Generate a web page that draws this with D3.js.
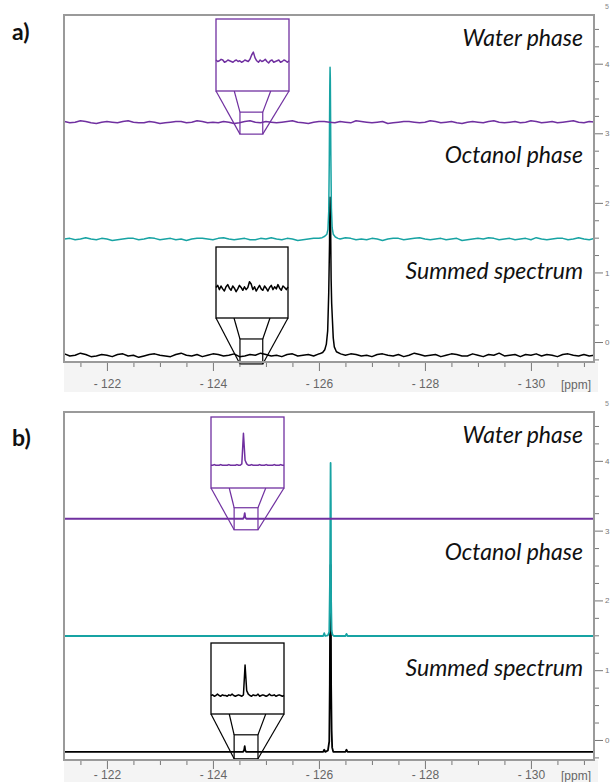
<!DOCTYPE html>
<html>
<head>
<meta charset="utf-8">
<script src="https://d3js.org/d3.v7.min.js"></script>
<style>
body{margin:0;background:#fff;overflow:hidden;}
</style>
</head>
<body>
<div id="chart"></div>
<script>
//Trace names, colours and vertical offsets (intensity units, right axis)
var traceNames = ["Water phase", "Octanol phase", "Summed spectrum"];
var traceColors = ["#7030a0", "#17a3a3", "#000000"];
var offsetsA = [3.16, 1.48, -0.19];
var offsetsB = [3.17, 1.49, -0.17];

//Axis ticks
var ppmMajorTicks = [-122, -124, -126, -128, -130];
var ppmMinorTicks = [-121.5, -122.5, -123, -123.5, -124.5, -125, -125.5, -126.5, -127, -127.5, -128.5, -129, -129.5, -130.5, -131];
var intMajorTicks = [0, 1, 2, 3, 4];
var intMajorLabels = ["0", "1", "2", "3", "4"];
var intMinorTicks = [-0.25, 0.25, 0.5, 0.75, 1.25, 1.5, 1.75, 2.25, 2.5, 2.75, 3.25, 3.5, 3.75, 4.25, 4.5];

//Sample positions of the noisy baselines in panel a
var gridPpm = [
  -121.2,-121.3,-121.4,-121.5,-121.6,-121.7,-121.8,-121.9,-122.0,-122.1,
  -122.2,-122.3,-122.4,-122.5,-122.6,-122.7,-122.8,-122.9,-123.0,-123.1,
  -123.2,-123.3,-123.4,-123.5,-123.6,-123.7,-123.8,-123.9,-124.0,-124.1,
  -124.2,-124.3,-124.4,-124.5,-124.6,-124.7,-124.8,-124.9,-125.0,-125.1,
  -125.2,-125.3,-125.4,-125.5,-125.6,-125.7,-125.8,-125.9,-126.0,-126.1,
  -126.2,-126.3,-126.4,-126.5,-126.6,-126.7,-126.8,-126.9,-127.0,-127.1,
  -127.2,-127.3,-127.4,-127.5,-127.6,-127.7,-127.8,-127.9,-128.0,-128.1,
  -128.2,-128.3,-128.4,-128.5,-128.6,-128.7,-128.8,-128.9,-129.0,-129.1,
  -129.2,-129.3,-129.4,-129.5,-129.6,-129.7,-129.8,-129.9,-130.0,-130.1,
  -130.2,-130.3,-130.4,-130.5,-130.6,-130.7,-130.8,-130.9,-131.0,-131.1,
  -131.2];

//Baseline noise, in hundredths of an intensity unit
var waterNoiseA = [
  1,-1,0,2,1,-1,-2,0,1,0, -1,1,2,0,-1,-1,1,0,-2,-1,
  0,1,1,-1,0,2,1,-1,0,-1, 1,0,-2,-1,1,2,0,-1,1,0,
  -1,0,1,2,0,-1,-2,0,1,1, 0,-1,1,0,-1,2,1,0,-1,0,
  1,-2,-1,0,1,1,0,-1,0,2, 1,-1,0,1,-1,-2,0,1,0,-1,
  1,2,0,-1,0,1,-1,0,2,1, -1,0,1,-1,0,1,2,0,-1,1, 0];
var octanolNoiseA = [
  0,1,-1,0,2,0,-1,1,0,-2, -1,0,1,1,-1,0,2,1,-1,0,
  1,-1,0,-2,0,1,1,0,-1,1, 2,0,-1,0,1,-1,-1,1,0,2,
  0,-1,1,0,-2,-1,0,1,1,0, -1,1,0,2,1,-1,0,-1,1,0,
  -2,0,1,1,-1,0,1,2,0,-1, 0,1,-1,0,1,-2,-1,0,1,0,
  2,1,-1,0,1,-1,0,1,-1,2, 0,-1,0,1,1,-1,0,2,0,-1, 1];
var summedNoiseA = [
  2,-1,0,3,1,-2,-1,1,0,-2, 1,2,-1,0,-3,-1,1,2,0,-1,
  -2,1,3,0,-1,1,-2,0,2,1, -1,0,2,-2,-1,1,0,3,1,-1,
  0,-2,1,2,-1,0,1,-1,2,0, -3,-1,1,0,2,1,-1,0,-2,1,
  2,0,-1,1,-2,0,3,1,-1,0, 1,-2,0,2,1,-1,-1,2,0,-2,
  1,0,3,-1,0,1,-2,1,0,2, -1,1,0,-2,1,2,0,-1,1,-1, 0];

//Signal around -126.2 ppm, [ppm, intensity above baseline]
var waterPeakA = [];
var octanolPeakA = [[-126.06,0.02],[-126.11,0.04],[-126.15,0.07],[-126.17,0.14],[-126.185,0.4],[-126.195,1.1],[-126.205,2.2],[-126.21,2.47],[-126.215,2.3],[-126.225,1.2],[-126.235,0.45],[-126.25,0.16],[-126.27,0.07],[-126.31,0.03],[-126.36,0.01]];
var summedPeakA = [[-126.01,0.02],[-126.07,0.04],[-126.11,0.08],[-126.14,0.16],[-126.165,0.35],[-126.185,0.9],[-126.2,1.6],[-126.205,2.1],[-126.21,2.27],[-126.22,1.9],[-126.23,1.1],[-126.24,0.75],[-126.255,0.5],[-126.27,0.25],[-126.29,0.12],[-126.33,0.05],[-126.41,0.02]];

//Panel b spectra, [ppm, intensity above baseline]
var waterB = [[-121.19,0],[-124.57,0],[-124.59,0.03],[-124.6,0.08],[-124.61,0.02],[-124.63,0],[-131.19,0]];
var octanolB = [[-121.19,0],[-126.08,0],[-126.1,0.04],[-126.12,0],[-126.17,0.01],[-126.195,0.06],[-126.21,0.9],[-126.22,2.48],[-126.225,1.9],[-126.23,0.5],[-126.24,0.08],[-126.255,0.02],[-126.28,0],[-126.5,0],[-126.52,0.03],[-126.54,0],[-131.19,0]];
var summedB = [[-121.19,0],[-124.57,0],[-124.59,0.03],[-124.6,0.08],[-124.61,0.02],[-124.63,0],[-126.08,0],[-126.1,0.03],[-126.12,0],[-126.17,0.02],[-126.195,0.15],[-126.205,0.96],[-126.21,1.8],[-126.22,2.68],[-126.225,2.2],[-126.23,0.96],[-126.24,0.3],[-126.25,0.06],[-126.27,0],[-126.5,0],[-126.52,0.03],[-126.54,0],[-131.19,0]];

//Magnified insets (0-10 scale inside the box)
var insetPpmA = [-124.51,-124.52,-124.53,-124.54,-124.55,-124.56,-124.57,-124.58,-124.59,-124.60,
  -124.61,-124.62,-124.63,-124.64,-124.65,-124.66,-124.67,-124.68,-124.69,-124.70,
  -124.71,-124.72,-124.73,-124.74,-124.75,-124.76,-124.77,-124.78,-124.79,-124.80,
  -124.81,-124.82,-124.83,-124.84,-124.85,-124.86,-124.87,-124.88,-124.89,-124.90,
  -124.91,-124.92,-124.93,-124.94];
var waterInsetA = [4.3,4.1,4.2,4.4,4.3,4.0,4.1,4.3,4.2,4.1, 4.0,4.2,4.3,4.1,4.2,4.0,4.1,4.3,4.2,4.1,
  4.4,5.0,5.4,4.6,4.2,4.0,4.3,4.1,4.2,4.4, 4.1,3.9,4.2,4.3,4.0,4.1,4.2,4.3,4.0,4.1, 4.3,4.2,4.0,4.2];
var summedInsetA = [4.3,4.6,4.0,4.5,4.1,3.8,4.4,4.7,4.2,3.9, 4.5,4.2,3.7,4.1,4.6,4.3,3.9,4.4,4.0,4.3,
  5.1,4.8,4.0,4.4,3.8,4.2,4.6,4.1,3.9,4.5, 4.2,3.8,4.3,4.6,4.0,4.4,4.1,4.7,4.2,3.9, 4.5,4.3,4.0,4.4];
var insetPpmB = [-124.40,-124.41,-124.42,-124.43,-124.44,-124.45,-124.46,-124.47,-124.48,-124.49,
  -124.50,-124.51,-124.52,-124.53,-124.54,-124.55,-124.56,-124.57,-124.58,-124.59,
  -124.60,-124.61,-124.62,-124.63,-124.64,-124.65,-124.66,-124.67,-124.68,-124.69,
  -124.70,-124.71,-124.72,-124.73,-124.74,-124.75,-124.76,-124.77,-124.78,-124.79,
  -124.80,-124.81,-124.82,-124.83,-124.84,-124.85];
var waterInsetB = [3.2,3.2,3.3,3.2,3.2,3.2,3.3,3.2,3.2,3.2, 3.2,3.3,3.2,3.2,3.2,3.2,3.3,3.2,3.2,3.4,
  7.7,3.9,3.4,3.2,3.2,3.3,3.2,3.2,3.2,3.2, 3.3,3.2,3.2,3.2,3.3,3.2,3.2,3.2,3.2,3.3, 3.2,3.2,3.2,3.3,3.2,3.2];
var summedInsetB = [2.6,2.7,2.5,2.6,2.8,2.6,2.5,2.7,2.6,2.6, 2.5,2.7,2.6,2.8,2.6,2.5,2.6,2.7,2.6,2.5,
  2.7,6.9,3.3,2.8,2.6,2.5,2.7,2.6,2.6,2.8, 2.5,2.6,2.7,2.6,2.5,2.6,2.8,2.6,2.6,2.7, 2.5,2.6,2.7,2.6,2.5,2.6];

//Merge the noisy baseline with the peak points
function buildTrace(noise, peak){
  var pts = [];
  var lo = peak.length ? d3.min(peak, function(d){return d[0];}) : 0;
  var hi = peak.length ? d3.max(peak, function(d){return d[0];}) : 0;
  for(var i = 0; i < gridPpm.length; i++){
    if(!peak.length || gridPpm[i] < lo || gridPpm[i] > hi) pts.push([gridPpm[i], noise[i]*0.01]);
  }
  pts = pts.concat(peak);
  pts.sort(function(a, b){return b[0] - a[0];});
  return pts;
}

var panels = [
  {label: "a)", top: 15, bottom: 362, labelY: 40, offsets: offsetsA, width: 1.5, pad: 8,
   traces: [buildTrace(waterNoiseA, waterPeakA), buildTrace(octanolNoiseA, octanolPeakA), buildTrace(summedNoiseA, summedPeakA)],
   insets: [
     {trace: 0, box: [216, 19, 73, 72], ppm: insetPpmA, values: waterInsetA, up: 0.144, down: 0.172},
     {trace: 2, box: [216, 247, 72, 71], ppm: insetPpmA, values: summedInsetA, up: 0.234, down: 0.125}
   ]},
  {label: "b)", top: 412, bottom: 760, labelY: 446, offsets: offsetsB, width: 1.8, pad: 1,
   traces: [waterB, octanolB, summedB],
   insets: [
     {trace: 0, box: [211, 417, 73, 71], ppm: insetPpmB, values: waterInsetB, up: 0.158, down: 0.158},
     {trace: 2, box: [211, 643, 73, 71], ppm: insetPpmB, values: summedInsetB, up: 0.244, down: 0.1}
   ]}
];

var W = 611, H = 782;
var left = 64, right = 594;
var axisFont = '"Liberation Sans", Arial, sans-serif';
var svg = d3.select('#chart').append('svg').attr('width', W).attr('height', H);

var x = d3.scaleLinear().domain([-121.19, -131.19]).range([left, right]);

panels.forEach(function(p, pi){
  var y = d3.scaleLinear().domain([-0.287, 4.70]).range([p.bottom, p.top]);
  var g = svg.append('g');

  //grey strip under the frame holding the ppm labels
  g.append('rect').attr('x', left).attr('y', p.bottom).attr('width', right - left + 4).attr('height', 30).attr('fill', '#f4f4f4');

  g.append('clipPath').attr('id', 'clip' + pi).append('rect')
    .attr('x', left).attr('y', p.top).attr('width', right - left).attr('height', p.bottom - p.top);

  //spectra, summed drawn first so the phases sit on top
  var traceG = g.append('g').attr('clip-path', 'url(#clip' + pi + ')');
  [2, 1, 0].forEach(function(t){
    var off = p.offsets[t];
    var line = d3.line().x(function(d){return x(d[0]);}).y(function(d){return y(off + d[1]);});
    traceG.append('path').attr('d', line(p.traces[t])).attr('fill', 'none')
      .attr('stroke', traceColors[t]).attr('stroke-width', p.width).attr('stroke-linejoin', 'round');
  });

  //trace labels
  traceNames.forEach(function(name, t){
    g.append('text').attr('x', 583).attr('y', y(p.offsets[t]) - 76)
      .attr('text-anchor', 'end').attr('font-family', 'Lato, "Open Sans", sans-serif')
      .attr('font-style', 'italic').attr('font-size', '23px').attr('fill', '#111').text(name);
  });

  //insets: small box on the trace, magnifier lines, big box with zoomed trace
  p.insets.forEach(function(ins, k){
    var col = traceColors[ins.trace];
    var off = p.offsets[ins.trace];
    var bx = ins.box[0], by = ins.box[1], bw = ins.box[2], bh = ins.box[3];
    var sx0 = x(ins.ppm[0]), sx1 = x(ins.ppm[ins.ppm.length - 1]);
    var sy0 = y(off + ins.up), sy1 = y(off - ins.down);
    var lines = [
      [bx, by + bh, sx0, sy1], [bx + bw*0.25, by + bh, sx0, sy0],
      [bx + bw*0.75, by + bh, sx1, sy0], [bx + bw, by + bh, sx1, sy1]
    ];
    g.selectAll('.mag' + k).data(lines).enter().append('line')
      .attr('x1', function(d){return d[0];}).attr('y1', function(d){return d[1];})
      .attr('x2', function(d){return d[2];}).attr('y2', function(d){return d[3];})
      .attr('stroke', col).attr('stroke-width', 1.2);
    g.append('rect').attr('x', sx0).attr('y', sy0).attr('width', sx1 - sx0).attr('height', sy1 - sy0)
      .attr('fill', 'none').attr('stroke', col).attr('stroke-width', 1.2);
    g.append('rect').attr('x', bx).attr('y', by).attr('width', bw).attr('height', bh)
      .attr('fill', '#fff').attr('stroke', col).attr('stroke-width', 1.3);
    var ix = d3.scaleLinear().domain([ins.ppm[0], ins.ppm[ins.ppm.length - 1]]).range([bx, bx + bw]);
    var iy = d3.scaleLinear().domain([0, 10]).range([by + bh, by]);
    var iline = d3.line().x(function(d, i){return ix(ins.ppm[i]);}).y(function(d){return iy(d);});
    g.append('path').attr('d', iline(ins.values)).attr('fill', 'none')
      .attr('stroke', col).attr('stroke-width', 1.5).attr('stroke-linejoin', 'round');
  });

  //frame
  g.append('rect').attr('x', left).attr('y', p.top).attr('width', right - left).attr('height', p.bottom - p.top)
    .attr('fill', 'none').attr('stroke', '#9a9a9a').attr('stroke-width', 2);

  //ppm axis
  var axMajor = g.append('g').attr('transform', 'translate(0,' + (p.bottom + 1) + ')')
    .call(d3.axisBottom(x).tickValues(ppmMajorTicks).tickSize(8).tickPadding(p.pad)
      .tickFormat(function(d){return '- ' + Math.abs(d);}));
  var axMinor = g.append('g').attr('transform', 'translate(0,' + (p.bottom + 1) + ')')
    .call(d3.axisBottom(x).tickValues(ppmMinorTicks).tickSize(4).tickFormat(''));
  [axMajor, axMinor].forEach(function(a){
    a.select('.domain').remove();
    a.selectAll('line').attr('stroke', '#777');
    a.selectAll('text').attr('fill', '#666').attr('font-size', '12px').attr('font-family', axisFont);
  });
  g.append('text').attr('x', 576).attr('y', p.bottom + 9 + p.pad + 10).attr('text-anchor', 'middle')
    .attr('fill', '#666').attr('font-size', '12px').attr('font-family', axisFont).text('[ppm]');

  //intensity axis on the right, squeezed against the page edge
  var ayMajor = g.append('g').attr('transform', 'translate(' + (right + 1) + ',0)')
    .call(d3.axisRight(y).tickValues(intMajorTicks).tickSize(8).tickPadding(2)
      .tickFormat(function(d, i){return intMajorLabels[i];}));
  var ayMinor = g.append('g').attr('transform', 'translate(' + (right + 1) + ',0)')
    .call(d3.axisRight(y).tickValues(intMinorTicks).tickSize(4).tickFormat(''));
  [ayMajor, ayMinor].forEach(function(a){
    a.select('.domain').remove();
    a.selectAll('line').attr('stroke', '#777');
    a.selectAll('text').attr('fill', '#777').attr('font-size', '8px').attr('font-family', axisFont);
  });
  g.append('text').attr('x', 605).attr('y', p.top - 6).attr('fill', '#888').attr('font-size', '7px')
    .attr('font-family', axisFont).text('5');

  //panel letter
  g.append('text').attr('x', 12).attr('y', p.labelY).attr('font-family', 'Lato, "Open Sans", sans-serif')
    .attr('font-weight', 'bold').attr('font-size', '23px').attr('fill', '#111').text(p.label);
});
</script>
</body>
</html>
